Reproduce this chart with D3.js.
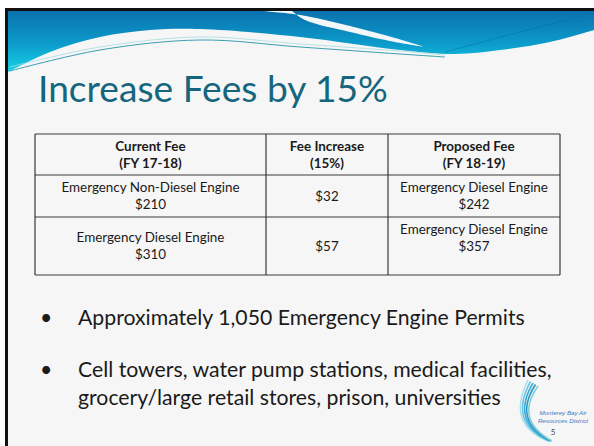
<!DOCTYPE html>
<html>
<head>
<meta charset="utf-8">
<script src="https://cdn.jsdelivr.net/npm/d3@7"></script>
<style>
  html, body { margin: 0; padding: 0; background: #fff; }
  svg { display: block; }
</style>
</head>
<body>
<div id="slide"></div>
<script>
// ---- data ----
var title = "Increase Fees by 15%";
var headers = [["Current Fee", "(FY 17-18)"], ["Fee Increase", "(15%)"], ["Proposed Fee", "(FY 18-19)"]];
var currentFee = [["Emergency Non-Diesel Engine", "$210"], ["Emergency Diesel Engine", "$310"]];
var feeIncrease = [["$32"], ["$57"]];
var proposedFee = [["Emergency Diesel Engine", "$242"], ["Emergency Diesel Engine", "$357", ""]];
var bullets = [
    ["Approximately 1,050 Emergency Engine Permits"],
    ["Cell towers, water pump stations, medical facilities,", "grocery/large retail stores, prison, universities"]
];
var logoLines = ["Monterey Bay Air", "Resources District"];
var pageNumber = "5";

// ---- layout ----
var width = 594, height = 446;
var font = "Lato, 'Open Sans', sans-serif";
var colWidths = [231, 122, 172];
var rowHeights = [41, 42, 58];
var table = {left: 35, top: 134};
var lineH = 17;

var svg = d3.select("#slide").append("svg")
    .attr("width", width)
    .attr("height", height);

var defs = svg.append("defs");
var grad = defs.append("linearGradient")
    .attr("id", "bannerGrad")
    .attr("gradientUnits", "userSpaceOnUse")
    .attr("x1", 0).attr("y1", 11).attr("x2", 0).attr("y2", 72);
grad.append("stop").attr("offset", "0%").attr("stop-color", "#0a72ae");
grad.append("stop").attr("offset", "55%").attr("stop-color", "#0c9ccc");
grad.append("stop").attr("offset", "100%").attr("stop-color", "#16d4e6");

// slide background + frame
svg.append("rect").attr("x", 6).attr("y", 9).attr("width", width).attr("height", height)
    .attr("fill", "#f6f6f6");
svg.append("rect").attr("x", 5).attr("y", 8).attr("width", width).attr("height", 3).attr("fill", "#111");
svg.append("rect").attr("x", 5).attr("y", 8).attr("width", 3).attr("height", height).attr("fill", "#111");

// ---- banner wave ----
var curve = d3.line().curve(d3.curveCatmullRom.alpha(0.5));
var waveBottom = [[594, 30], [550, 42], [500, 50], [455, 54], [400, 50], [300, 37], [200, 29], [150, 30], [100, 37], [50, 52], [8, 72]];
svg.append("path")
    .attr("d", "M8,11L594,11L" + curve(waveBottom).slice(1) + "Z")
    .attr("fill", "url(#bannerGrad)");

// white swoosh across the blue
var swooshTop = [[262, 11], [300, 15], [350, 26], [395, 38], [425, 47]];
var swooshBot = [[425, 47], [395, 42], [350, 32], [305, 20], [292, 11]];
svg.append("path")
    .attr("d", curve(swooshTop) + "L" + curve(swooshBot).slice(1) + "Z")
    .attr("fill", "#f3f7f9");

// thin lines under the wave
svg.append("path")
    .attr("d", curve([[10, 67], [100, 47], [200, 37], [300, 44], [400, 51], [445, 55]]))
    .attr("fill", "none").attr("stroke", "#a8dbe2").attr("stroke-width", 0.8);
svg.append("path")
    .attr("d", curve([[10, 71], [100, 50], [200, 40], [300, 47], [400, 54], [445, 57]]))
    .attr("fill", "none").attr("stroke", "#3a9fb0").attr("stroke-width", 1);
svg.append("path")
    .attr("d", curve([[445, 52], [520, 32], [594, 13]]))
    .attr("fill", "none").attr("stroke", "#0a6aa0").attr("stroke-width", 0.8).attr("opacity", 0.6);

// ---- title ----
var titleText = svg.append("text")
    .attr("x", 38)
    .attr("y", 102)
    .attr("font-family", font)
    .attr("font-size", 36)
    .attr("fill", "#15667c")
    .text(title);
fitWidth(titleText, 350);

// ---- table ----
var xEdges = [table.left];
colWidths.forEach(function (w, i) { xEdges.push(xEdges[i] + w); });
var yEdges = [table.top];
rowHeights.forEach(function (h, i) { yEdges.push(yEdges[i] + h); });

var x = d3.scaleOrdinal().domain([0, 1, 2]).range(xEdges.slice(0, 3));
var y = d3.scaleOrdinal().domain([0, 1, 2]).range(yEdges.slice(0, 3));

var cells = [];
headers.forEach(function (h, c) { cells.push({row: 0, col: c, lines: h, bold: true}); });
[currentFee, feeIncrease, proposedFee].forEach(function (col, c) {
    col.forEach(function (lines, r) { cells.push({row: r + 1, col: c, lines: lines, bold: false}); });
});

var grid = svg.append("g").attr("class", "grid");
grid.selectAll("line.h")
    .data(yEdges)
    .enter().append("line")
    .attr("class", "h")
    .attr("x1", xEdges[0]).attr("x2", xEdges[3])
    .attr("y1", function (d) { return d; }).attr("y2", function (d) { return d; })
    .attr("stroke", "#3a3a3a").attr("stroke-width", 1.2);
grid.selectAll("line.v")
    .data(xEdges)
    .enter().append("line")
    .attr("class", "v")
    .attr("y1", yEdges[0]).attr("y2", yEdges[3])
    .attr("x1", function (d) { return d; }).attr("x2", function (d) { return d; })
    .attr("stroke", "#3a3a3a").attr("stroke-width", 1.2);

// cell font sized so the longest label spans like the slide
var cellProbe = svg.append("text").attr("font-family", font).attr("font-size", 13)
    .text(currentFee[0][0]);
var cellSize = fitWidth(cellProbe, 178);
cellProbe.remove();

var cellText = svg.append("g").attr("class", "cells")
    .selectAll("text")
    .data(cells)
    .enter().append("text")
    .attr("text-anchor", "middle")
    .attr("font-family", font)
    .attr("font-size", cellSize)
    .attr("font-weight", function (d) { return d.bold ? 700 : 400; })
    .attr("fill", "#1a1a1a")
    .attr("transform", function (d) {
        var cx = x(d.col) + colWidths[d.col] / 2;
        var cy = y(d.row) + rowHeights[d.row] / 2 - (d.lines.length - 1) * lineH / 2 + 4.5;
        return "translate(" + cx + "," + cy + ")";
    });
cellText.selectAll("tspan")
    .data(function (d) { return d.lines; })
    .enter().append("tspan")
    .attr("x", 0)
    .attr("y", function (d, i) { return i * lineH; })
    .text(function (d) { return d; });

// ---- bullets ----
var bulletTops = [325, 377];
var bulletG = svg.append("g").attr("class", "bullets");
var probe = bulletG.append("text")
    .attr("font-family", font).attr("font-size", 21)
    .text(bullets[0][0]);
var bulletSize = fitWidth(probe, 447);
probe.remove();

bullets.forEach(function (b, i) {
    bulletG.append("text")
        .attr("x", 40).attr("y", bulletTops[i])
        .attr("font-family", font).attr("font-size", bulletSize)
        .attr("fill", "#1a1a1a")
        .text("\u2022");
    var t = bulletG.append("text")
        .attr("x", 78).attr("y", bulletTops[i])
        .attr("font-family", font).attr("font-size", bulletSize)
        .attr("fill", "#1a1a1a");
    t.selectAll("tspan").data(b).enter().append("tspan")
        .attr("x", 78)
        .attr("dy", function (d, j) { return j === 0 ? 0 : 28; })
        .text(function (d) { return d; });
});

// ---- logo ----
var logo = svg.append("g").attr("class", "logo");
var arcColors = ["#a9def0", "#6cc6e4", "#3aaed6", "#2f98c4", "#7fd0d8"];
arcColors.forEach(function (c, i) {
    var p = d3.path();
    p.moveTo(528 + i * 2.5, 380 + i * 1.5);
    p.quadraticCurveTo(506 + i * 2, 424 - i, 548 + i, 441);
    logo.append("path").attr("d", p.toString())
        .attr("fill", "none").attr("stroke", c).attr("stroke-width", 1.6);
});
logo.selectAll("text.name")
    .data(logoLines)
    .enter().append("text")
    .attr("class", "name")
    .attr("x", 563).attr("y", function (d, i) { return 415 + i * 8; })
    .attr("text-anchor", "middle")
    .attr("font-family", "'Liberation Sans', Arial, sans-serif")
    .attr("font-style", "italic")
    .attr("font-size", 6.2)
    .attr("fill", "#3a78c8")
    .text(function (d) { return d; });
logo.append("text")
    .attr("x", 553).attr("y", 435)
    .attr("text-anchor", "middle")
    .attr("font-family", font)
    .attr("font-size", 8)
    .attr("fill", "#444")
    .text(pageNumber);

function fitWidth(sel, w) {
    var len = sel.node().getComputedTextLength();
    var fs = parseFloat(sel.attr("font-size")) * w / len;
    sel.attr("font-size", fs);
    return fs;
}
</script>
</body>
</html>
